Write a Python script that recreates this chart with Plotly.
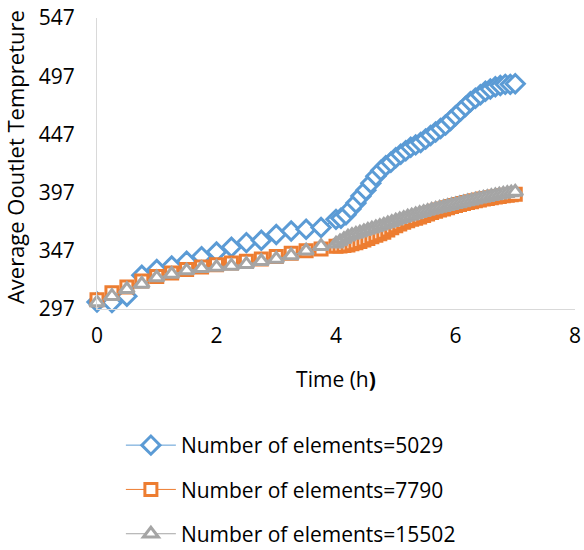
import plotly.graph_objects as go

# ---- data ----
t_early = [0, 0.25, 0.5, 0.75, 1.0, 1.25, 1.5, 1.75, 2.0, 2.25, 2.5, 2.75, 3.0, 3.25, 3.5, 3.75]

t_late_blue = [4.0, 4.083, 4.167, 4.25, 4.333, 4.417, 4.5, 4.583, 4.667, 4.75, 4.833, 4.917,
               5.0, 5.083, 5.167, 5.25, 5.333, 5.417, 5.5, 5.583, 5.667, 5.75, 5.833, 5.917,
               6.0, 6.083, 6.167, 6.25, 6.333, 6.417, 6.5, 6.583, 6.667, 6.75, 6.833, 6.917, 7.0]

t_late = [4.0, 4.067, 4.133, 4.2, 4.267, 4.333, 4.4, 4.467, 4.533, 4.6, 4.667, 4.733,
          4.8, 4.867, 4.933, 5.0, 5.067, 5.133, 5.2, 5.267, 5.333, 5.4, 5.467, 5.533,
          5.6, 5.667, 5.733, 5.8, 5.867, 5.933, 6.0, 6.067, 6.133, 6.2, 6.267, 6.333,
          6.4, 6.467, 6.533, 6.6, 6.667, 6.733, 6.8, 6.867, 6.933, 7.0]

blue_early = [303, 302.5, 308, 326, 331, 334, 338, 342, 346, 350, 354, 356, 361, 364, 365.5, 367]
blue_late = [374, 375, 378, 383, 388, 394, 399, 405, 411, 416, 420, 423, 427, 430, 433, 436,
             438, 440, 443, 446, 449, 452, 455, 459, 463, 467, 471, 475, 478, 481, 484, 486,
             488, 489, 490, 490, 490.5]

orange_early = [305, 311, 316, 321, 325, 328, 331, 333, 335, 336.5, 338, 340, 342, 345, 347, 348.5]
orange_late = [351, 351.2, 351.5, 352, 353, 354, 355, 356.3, 357.6, 359, 360.3, 361.6,
               363, 364.8, 366.8, 368.5, 370, 371.5, 372.8, 374, 375, 376, 377.3, 378.6,
               380, 381, 382, 383, 384, 385, 386, 386.8, 387.6, 388.4, 389.2, 390,
               390.7, 391.4, 392, 392.6, 393.2, 393.7, 394.2, 394.7, 395.1, 395.5]

gray_early = [302.5, 308, 314, 318.5, 324, 327, 330, 332, 333, 334, 335.5, 338, 340, 343, 347, 351]
gray_late = [353, 355, 357, 359, 360.5, 361.5, 362.5, 363.7, 364.9, 366, 367.1, 368.2,
             369.3, 370.4, 371.5, 372.8, 374, 375.1, 376.2, 377.2, 378.2, 379.2, 380.2, 381.1,
             382, 382.9, 383.7, 384.5, 385.3, 386.1, 386.9, 387.7, 388.5, 389.3, 390.1, 390.9,
             391.7, 392.4, 393.1, 393.8, 394.5, 395.1, 395.8, 396.4, 397, 397.6]

names = ["Number of elements=5029", "Number of elements=7790", "Number of elements=15502"]
colors = ["#5B9BD5", "#ED7D31", "#A5A5A5"]
symbols = ["diamond", "square", "triangle-up"]

x_tick_vals = [0, 2, 4, 6, 8]
y_tick_vals = [297, 347, 397, 447, 497, 547]
y_title = "Average Ooutlet Tempreture"
x_title = "Time (h<b>)</b>"

series = [
    (t_early + t_late_blue, blue_early + blue_late),
    (t_early + t_late, orange_early + orange_late),
    (t_early + t_late, gray_early + gray_late),
]
sizes = [14, 12, 13]

fig = go.Figure()
for i, (xs, ys) in enumerate(series):
    fig.add_trace(go.Scatter(
        x=xs, y=ys, name=names[i], mode="lines+markers",
        line=dict(color=colors[i], width=1),
        marker=dict(symbol=symbols[i], size=sizes[i], color="white",
                    line=dict(color=colors[i], width=3)),
        cliponaxis=False, legendgroup=str(i),
    ))

font_family = "Open Sans, Liberation Sans, sans-serif"
fig.update_layout(
    width=584, height=550,
    margin=dict(l=97, r=9, t=18, b=241, autoexpand=False),
    paper_bgcolor="white", plot_bgcolor="white",
    font=dict(family=font_family, size=21, color="#000000"),
    xaxis=dict(range=[0, 8], tickvals=x_tick_vals, showgrid=False, zeroline=False,
               showline=True, linecolor="#D9D9D9", linewidth=1,
               ticks="outside", ticklen=8, tickcolor="rgba(0,0,0,0)",
               tickfont=dict(size=21), automargin=False,
               title=dict(text=x_title, font=dict(size=21), standoff=24)),
    yaxis=dict(range=[297, 547], tickvals=y_tick_vals, showgrid=False, zeroline=False,
               showline=True, linecolor="#D9D9D9", linewidth=1,
               ticks="outside", ticklen=17, tickcolor="rgba(0,0,0,0)",
               tickfont=dict(size=21), automargin=False),
    legend=dict(orientation="v", xref="container", yref="container",
                x=0.207, xanchor="left", y=0.2273, yanchor="top",
                font=dict(size=21), tracegroupgap=14, itemwidth=50,
                bgcolor="rgba(0,0,0,0)"),
    showlegend=True,
    annotations=[dict(text=y_title, xref="paper", yref="paper", x=-0.1715, y=0.522,
                      xanchor="center", yanchor="middle", textangle=-90, showarrow=False,
                      font=dict(size=22))],
)

fig.write_html("out.html")
